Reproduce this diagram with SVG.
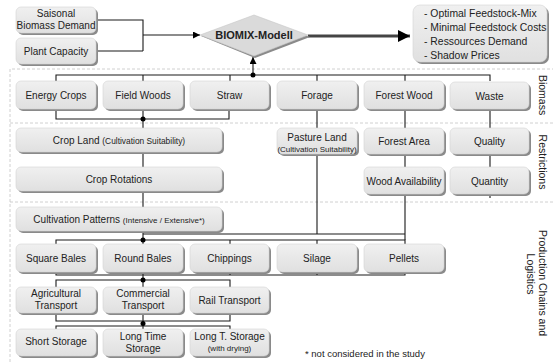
<svg xmlns="http://www.w3.org/2000/svg" width="553" height="362" viewBox="0 0 553 362">
<defs>
<linearGradient id="g" x1="0" y1="0" x2="0" y2="1">
<stop offset="0" stop-color="#f0f0f0"/>
<stop offset="1" stop-color="#e0e0e0"/>
</linearGradient>
<marker id="ah" viewBox="0 0 10 10" refX="10" refY="5" markerWidth="7" markerHeight="7" markerUnits="userSpaceOnUse" orient="auto">
<path d="M0,0 L10,5 L0,10 z" fill="#000"/>
</marker>
<marker id="ahb" viewBox="0 0 10 10" refX="10" refY="5" markerWidth="4" markerHeight="4" orient="auto">
<path d="M0,0 L10,5 L0,10 z" fill="#000"/>
</marker>
</defs>
<style>
.sh{fill:#8a8a8a}
.bx{fill:url(#g);stroke:#d4d4d4;stroke-width:0.6}
text{font-family:"Liberation Sans",Arial,sans-serif;fill:#222}
.t{font-size:10px;text-anchor:middle}
.s{font-size:8px}
.c{fill:none;stroke:#1a1a1a;stroke-width:1.1}
.dot{fill:#000}
.reg{fill:none;stroke:#c4c4c4;stroke-width:0.8;stroke-dasharray:3,2}
.lab{font-size:10.5px;text-anchor:middle}
</style>

<g id="regions">
<path class="reg" d="M10,362 V69 H553"/>
<path class="reg" d="M10,123 H553"/>
<path class="reg" d="M10,202 H553"/>
<text class="lab" transform="translate(539,95) rotate(90)">Biomass</text>
<text class="lab" transform="translate(539,162) rotate(90)">Restrictions</text>
<text class="lab" transform="translate(539,283) rotate(90)">Production Chains and</text>
<text class="lab" transform="translate(527,274) rotate(90)">Logistics</text>
</g>

<g id="connectors">
<path class="c" d="M96,20 H143 V51 M96,51 H143"/>
<path class="c" d="M143,35 H200" marker-end="url(#ah)"/>
<path d="M308,36 H410" fill="none" stroke="#444" stroke-width="3" marker-end="url(#ahb)"/>
<path class="c" d="M253,75 V57" marker-end="url(#ah)"/>
<path class="c" d="M56,81 V75 H490 V81 M143,75 V81 M230,75 V81 M317,75 V81 M405,75 V81"/>
<path class="c" d="M56,109 V119 H229 V109 M143,109 V128"/>
<path class="c" d="M143,152 V167 M143,191 V207 M143,231 V240"/>
<path class="c" d="M317,109 V128 M405,109 V128 M490,109 V128"/>
<path class="c" d="M405,154 V167 M490,154 V167 M490,194 V198"/>
<path class="c" d="M317,154 V234 M405,194 V240 M143,234 H405"/>
<path class="c" d="M56,244 V240 H405 V244 M143,240 V244 M230,240 V244 M317,240 V244"/>
<path class="c" d="M56,272 V275 H405 V272 M143,272 V280 M230,272 V275 M317,272 V275"/>
<path class="c" d="M56,287 V280 H230 V287 M143,280 V287"/>
<path class="c" d="M56,313 V321 H230 V313 M143,313 V326"/>
<path class="c" d="M56,329 V326 H230 V329 M143,326 V329"/>
<circle class="dot" cx="253" cy="75" r="2.5"/>
<circle class="dot" cx="143" cy="119" r="2.5"/>
<circle class="dot" cx="143" cy="240" r="2.5"/>
<circle class="dot" cx="143" cy="280" r="2.5"/>
<circle class="dot" cx="143" cy="323.5" r="2.5"/>
</g>

<g id="saisonal"><rect class="sh" x="18" y="9" width="80" height="26" rx="5"/><rect class="bx" x="16" y="7" width="80" height="26" rx="5"/><text class="t" x="56" y="17">Saisonal</text><text class="t" x="56" y="29">Biomass Demand</text></g>
<g id="plant"><rect class="sh" x="18" y="40" width="80" height="26" rx="5"/><rect class="bx" x="16" y="38" width="80" height="26" rx="5"/><text class="t" x="56" y="54.5">Plant Capacity</text></g>

<g id="biomix">
<path d="M201,36 L255,16 L310,37 L255,58 Z" fill="#8a8a8a"/>
<path d="M200,35 L254,15 L308,35 L254,56 Z" fill="#dadada" stroke="#c8c8c8" stroke-width="0.6"/>
<text x="254" y="39" style="font-size:11px;font-weight:bold;text-anchor:middle">BIOMIX-Modell</text>
</g>

<g id="output"><rect class="sh" x="415" y="7" width="134" height="57" rx="7"/><rect class="bx" x="413" y="5" width="134" height="57" rx="7"/>
<text x="424" y="17" style="font-size:10.4px">- Optimal Feedstock-Mix</text>
<text x="424" y="30.5" style="font-size:10.4px">- Minimal Feedstock Costs</text>
<text x="424" y="45" style="font-size:10.4px">- Ressources Demand</text>
<text x="424" y="59" style="font-size:10.4px">- Shadow Prices</text>
</g>

<g id="energycrops"><rect class="sh" x="18" y="83" width="80" height="28" rx="5"/><rect class="bx" x="16" y="81" width="80" height="28" rx="5"/><text class="t" x="56" y="98.5">Energy Crops</text></g>
<g id="fieldwoods"><rect class="sh" x="105" y="83" width="80" height="28" rx="5"/><rect class="bx" x="103" y="81" width="80" height="28" rx="5"/><text class="t" x="143" y="98.5">Field Woods</text></g>
<g id="straw"><rect class="sh" x="192" y="83" width="79" height="28" rx="5"/><rect class="bx" x="190" y="81" width="79" height="28" rx="5"/><text class="t" x="229.5" y="98.5">Straw</text></g>
<g id="forage"><rect class="sh" x="279" y="83" width="80" height="28" rx="5"/><rect class="bx" x="277" y="81" width="80" height="28" rx="5"/><text class="t" x="317" y="98.5">Forage</text></g>
<g id="forestwood"><rect class="sh" x="366" y="83" width="80" height="28" rx="5"/><rect class="bx" x="364" y="81" width="80" height="28" rx="5"/><text class="t" x="404" y="98.5">Forest Wood</text></g>
<g id="waste"><rect class="sh" x="452" y="84" width="79" height="27" rx="5"/><rect class="bx" x="450" y="82" width="79" height="27" rx="5"/><text class="t" x="489.5" y="100">Waste</text></g>

<g id="cropland"><rect class="sh" x="18" y="130" width="206" height="24" rx="5"/><rect class="bx" x="16" y="128" width="206" height="24" rx="5"/><text class="t" x="119" y="143.5">Crop Land <tspan style="font-size:8.4px">(Cultivation Suitability)</tspan></text></g>
<g id="pasture"><rect class="sh" x="279" y="130" width="80" height="26" rx="5"/><rect class="bx" x="277" y="128" width="80" height="26" rx="5"/><text class="t" x="317" y="140.5">Pasture Land</text><text class="t s" x="317" y="151.5">(Cultivation Suitability)</text></g>
<g id="forestarea"><rect class="sh" x="366" y="130" width="80" height="26" rx="5"/><rect class="bx" x="364" y="128" width="80" height="26" rx="5"/><text class="t" x="404" y="144.5">Forest Area</text></g>
<g id="quality"><rect class="sh" x="452" y="130" width="79" height="26" rx="5"/><rect class="bx" x="450" y="128" width="79" height="26" rx="5"/><text class="t" x="489.5" y="144.5">Quality</text></g>

<g id="croprotations"><rect class="sh" x="18" y="169" width="206" height="24" rx="5"/><rect class="bx" x="16" y="167" width="206" height="24" rx="5"/><text class="t" x="119" y="182.5">Crop Rotations</text></g>
<g id="woodavailability"><rect class="sh" x="366" y="169" width="80" height="27" rx="5"/><rect class="bx" x="364" y="167" width="80" height="27" rx="5"/><text class="t" x="404" y="184.5">Wood Availability</text></g>
<g id="quantity"><rect class="sh" x="452" y="169" width="79" height="27" rx="5"/><rect class="bx" x="450" y="167" width="79" height="27" rx="5"/><text class="t" x="489.5" y="184.5">Quantity</text></g>

<g id="cultivation"><rect class="sh" x="18" y="209" width="206" height="24" rx="5"/><rect class="bx" x="16" y="207" width="206" height="24" rx="5"/><text class="t" x="119" y="222.5">Cultivation Patterns <tspan style="font-size:8px">(Intensive / Extensive*)</tspan></text></g>

<g id="squarebales"><rect class="sh" x="18" y="246" width="80" height="28" rx="5"/><rect class="bx" x="16" y="244" width="80" height="28" rx="5"/><text class="t" x="56" y="261.5">Square Bales</text></g>
<g id="roundbales"><rect class="sh" x="105" y="246" width="80" height="28" rx="5"/><rect class="bx" x="103" y="244" width="80" height="28" rx="5"/><text class="t" x="143" y="261.5">Round Bales</text></g>
<g id="chippings"><rect class="sh" x="192" y="246" width="79" height="28" rx="5"/><rect class="bx" x="190" y="244" width="79" height="28" rx="5"/><text class="t" x="229.5" y="261.5">Chippings</text></g>
<g id="silage"><rect class="sh" x="279" y="246" width="80" height="28" rx="5"/><rect class="bx" x="277" y="244" width="80" height="28" rx="5"/><text class="t" x="317" y="261.5">Silage</text></g>
<g id="pellets"><rect class="sh" x="366" y="246" width="80" height="28" rx="5"/><rect class="bx" x="364" y="244" width="80" height="28" rx="5"/><text class="t" x="404" y="261.5">Pellets</text></g>

<g id="agritransport"><rect class="sh" x="18" y="289" width="80" height="26" rx="5"/><rect class="bx" x="16" y="287" width="80" height="26" rx="5"/><text class="t" x="56" y="297">Agricultural</text><text class="t" x="56" y="309">Transport</text></g>
<g id="commtransport"><rect class="sh" x="105" y="289" width="80" height="26" rx="5"/><rect class="bx" x="103" y="287" width="80" height="26" rx="5"/><text class="t" x="143" y="297">Commercial</text><text class="t" x="143" y="309">Transport</text></g>
<g id="railtransport"><rect class="sh" x="192" y="289" width="79" height="26" rx="5"/><rect class="bx" x="190" y="287" width="79" height="26" rx="5"/><text class="t" x="229.5" y="303.5">Rail Transport</text></g>

<g id="shortstorage"><rect class="sh" x="18" y="331" width="80" height="27" rx="5"/><rect class="bx" x="16" y="329" width="80" height="27" rx="5"/><text class="t" x="56" y="344.5">Short Storage</text></g>
<g id="longstorage"><rect class="sh" x="105" y="331" width="80" height="27" rx="5"/><rect class="bx" x="103" y="329" width="80" height="27" rx="5"/><text class="t" x="143" y="339.5">Long Time</text><text class="t" x="143" y="352">Storage</text></g>
<g id="longdrying"><rect class="sh" x="192" y="331" width="79" height="27" rx="5"/><rect class="bx" x="190" y="329" width="79" height="27" rx="5"/><text class="t" x="229.5" y="339.5">Long T. Storage</text><text class="t s" x="229.5" y="351">(with drying)</text></g>

<g id="footnote"><text x="305" y="357" style="font-size:9.5px">*  not considered in the study</text></g>
</svg>
